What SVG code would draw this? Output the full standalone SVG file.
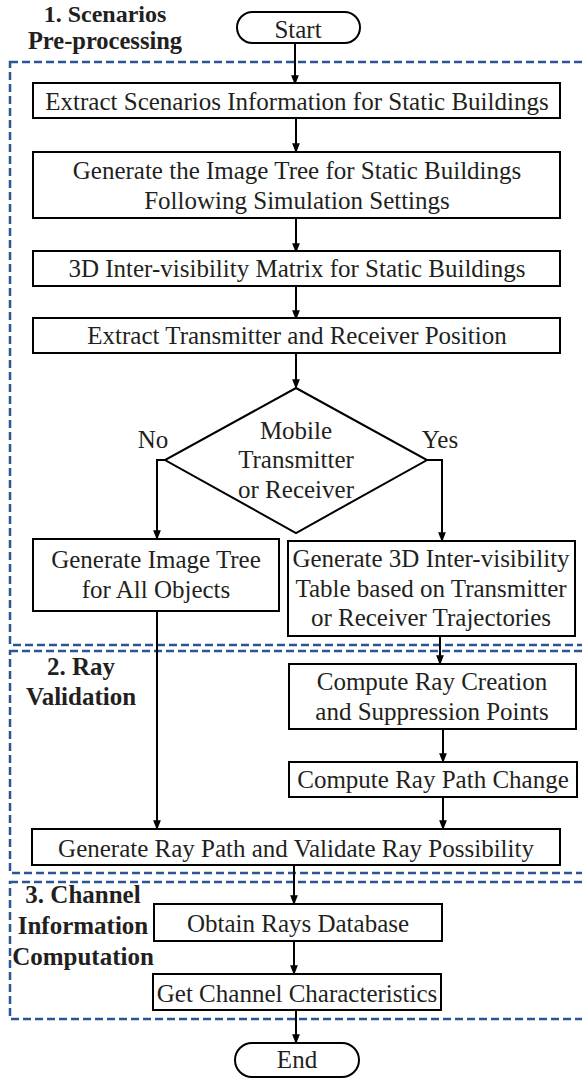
<svg xmlns="http://www.w3.org/2000/svg" width="582" height="1080" viewBox="0 0 582 1080">
<defs>
<marker id="ah" markerWidth="10" markerHeight="13" refX="10" refY="5" orient="auto" markerUnits="userSpaceOnUse" viewBox="0 0 13 10">
<path d="M0,0 L13,5 L0,10 z" fill="#000"/>
</marker>
<style>
.box{fill:#fff;stroke:#000;stroke-width:2}
.t{font-family:"Liberation Serif","Times New Roman",serif;font-size:25px;fill:#231f20;text-anchor:middle}
.b{font-family:"Liberation Serif","Times New Roman",serif;font-size:25px;font-weight:bold;fill:#231f20;text-anchor:middle}
.dash{fill:none;stroke:#2b5597;stroke-width:2.5;stroke-dasharray:8,4}
.c{fill:none;stroke:#000;stroke-width:2}
</style>
</defs>
<rect width="582" height="1080" fill="#fff"/>
<g id="stages">
<rect class="dash" x="10" y="62" width="590" height="583"/>
<rect class="dash" x="10" y="651" width="590" height="222"/>
<rect class="dash" x="10" y="882" width="590" height="137"/>
<text class="b" x="105" y="22" style="font-size:24px">1. Scenarios</text>
<text class="b" x="105" y="49" style="font-size:24.5px">Pre-processing</text>
<text class="b" x="81" y="675">2. Ray</text>
<text class="b" x="81" y="705">Validation</text>
<text class="b" x="83" y="903">3. Channel</text>
<text class="b" x="83" y="934">Information</text>
<text class="b" x="83" y="965">Computation</text>
</g>
<g id="connectors">
<line class="c" x1="295" y1="43" x2="295" y2="83" marker-end="url(#ah)"/>
<line class="c" x1="296" y1="118" x2="296" y2="151" marker-end="url(#ah)"/>
<line class="c" x1="296" y1="218" x2="296" y2="251" marker-end="url(#ah)"/>
<line class="c" x1="296" y1="286" x2="296" y2="318" marker-end="url(#ah)"/>
<line class="c" x1="296" y1="353" x2="296" y2="387" marker-end="url(#ah)"/>
<polyline class="c" points="165,460 157,460 157,538" marker-end="url(#ah)"/>
<polyline class="c" points="427,460 442,460 442,540" marker-end="url(#ah)"/>
<line class="c" x1="157" y1="611" x2="157" y2="828" marker-end="url(#ah)"/>
<line class="c" x1="440" y1="636" x2="440" y2="663" marker-end="url(#ah)"/>
<line class="c" x1="443" y1="729" x2="443" y2="761" marker-end="url(#ah)"/>
<line class="c" x1="443" y1="797" x2="443" y2="828" marker-end="url(#ah)"/>
<line class="c" x1="294" y1="865" x2="294" y2="903" marker-end="url(#ah)"/>
<line class="c" x1="294" y1="941" x2="294" y2="973" marker-end="url(#ah)"/>
<line class="c" x1="296" y1="1010" x2="296" y2="1042" marker-end="url(#ah)"/>
</g>
<g id="start">
<rect class="box" x="237" y="12" width="123" height="31" rx="15.5"/>
<text class="t" x="298" y="38">Start</text>
</g>
<g id="n1">
<rect class="box" x="33" y="83" width="527" height="35"/>
<text class="t" x="297" y="110">Extract Scenarios Information for Static Buildings</text>
</g>
<g id="n2">
<rect class="box" x="33" y="152" width="527" height="66"/>
<text class="t" x="297" y="179">Generate the Image Tree for Static Buildings</text>
<text class="t" x="297" y="209">Following Simulation Settings</text>
</g>
<g id="n3">
<rect class="box" x="33" y="251" width="527" height="35"/>
<text class="t" x="297" y="277">3D Inter-visibility Matrix for Static Buildings</text>
</g>
<g id="n4">
<rect class="box" x="33" y="318" width="527" height="35"/>
<text class="t" x="297" y="344">Extract Transmitter and Receiver Position</text>
</g>
<g id="decision">
<polygon class="box" points="296,388 427,460 296,533 165,460"/>
<text class="t" x="296" y="439">Mobile</text>
<text class="t" x="296" y="468">Transmitter</text>
<text class="t" x="296" y="498">or Receiver</text>
<text class="t" x="153" y="448">No</text>
<text class="t" x="440" y="448">Yes</text>
</g>
<g id="n5">
<rect class="box" x="33" y="539" width="246" height="72"/>
<text class="t" x="156" y="568">Generate Image Tree</text>
<text class="t" x="156" y="598">for All Objects</text>
</g>
<g id="n6">
<rect class="box" x="288" y="541" width="287" height="95"/>
<text class="t" x="431" y="567">Generate 3D Inter-visibility</text>
<text class="t" x="431" y="597">Table based on Transmitter</text>
<text class="t" x="431" y="626">or Receiver Trajectories</text>
</g>
<g id="n7">
<rect class="box" x="289" y="664" width="287" height="65"/>
<text class="t" x="432" y="690">Compute Ray Creation</text>
<text class="t" x="432" y="720">and Suppression Points</text>
</g>
<g id="n8">
<rect class="box" x="289" y="762" width="288" height="35"/>
<text class="t" x="433" y="788">Compute Ray Path Change</text>
</g>
<g id="n9">
<rect class="box" x="32" y="829" width="528" height="36"/>
<text class="t" x="296" y="857">Generate Ray Path and Validate Ray Possibility</text>
</g>
<g id="n10">
<rect class="box" x="154" y="904" width="288" height="37"/>
<text class="t" x="298" y="932">Obtain Rays Database</text>
</g>
<g id="n11">
<rect class="box" x="153" y="974" width="288" height="36"/>
<text class="t" x="297" y="1002">Get Channel Characteristics</text>
</g>
<g id="end">
<rect class="box" x="235" y="1043" width="124" height="34" rx="17"/>
<text class="t" x="297" y="1068">End</text>
</g>
</svg>
